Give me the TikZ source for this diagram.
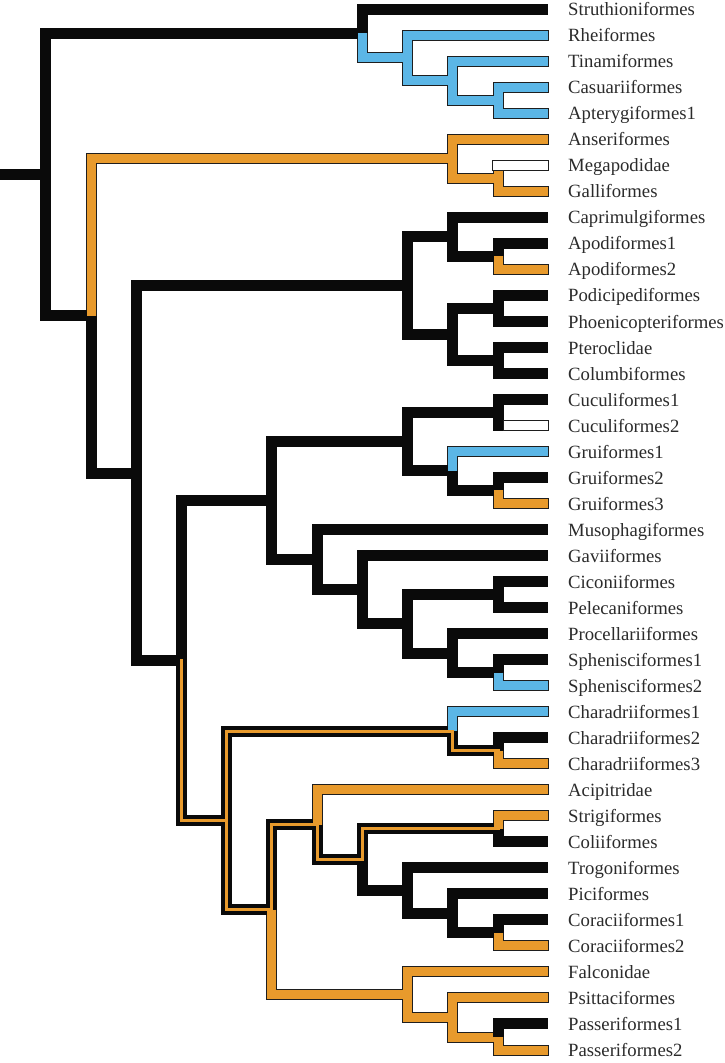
\documentclass[tikz,border=0pt]{standalone}
\usepackage{fontspec}
\setmainfont{Liberation Serif}
\usetikzlibrary{calc}
\definecolor{tblue}{HTML}{5BB6E6}
\definecolor{torange}{HTML}{E89A2C}
\definecolor{tblack}{HTML}{0A0A0A}
\definecolor{tline}{HTML}{1E1E1E}
\definecolor{ttext}{HTML}{2B2B2B}
\begin{document}
\begin{tikzpicture}[x=1pt,y=-1pt,line join=miter,line cap=butt,
  outl/.style={draw=tline,line width=11pt,shorten >=-1pt},
  kedge/.style={draw=tblack,line width=11pt},
  bedge/.style={draw=tblue,line width=9pt},
  oedge/.style={draw=torange,line width=9pt},
  dedge/.style={draw=tblack,line width=11pt},
  stripe/.style={draw=torange,line width=3pt,line cap=rect},
  wbar/.style={draw=tline,fill=white,line width=1pt},
  lab/.style={anchor=base west,inner sep=0pt,text=ttext,font=\fontsize{18.7}{20}\selectfont}]
\fill[white] (0,0) rectangle (724,1063);
\useasboundingbox (0,0) rectangle (724,1063);
% tips and labels
\foreach \i/\nm in {1/Struthioniformes,2/Rheiformes,3/Tinamiformes,4/Casuariiformes,5/Apterygiformes1,
  6/Anseriformes,7/Megapodidae,8/Galliformes,9/Caprimulgiformes,10/Apodiformes1,11/Apodiformes2,
  12/Podicipediformes,13/Phoenicopteriformes,14/Pteroclidae,15/Columbiformes,16/Cuculiformes1,
  17/Cuculiformes2,18/Gruiformes1,19/Gruiformes2,20/Gruiformes3,21/Musophagiformes,22/Gaviiformes,
  23/Ciconiiformes,24/Pelecaniformes,25/Procellariiformes,26/Sphenisciformes1,27/Sphenisciformes2,
  28/Charadriiformes1,29/Charadriiformes2,30/Charadriiformes3,31/Acipitridae,32/Strigiformes,
  33/Coliiformes,34/Trogoniformes,35/Piciformes,36/Coraciiformes1,37/Coraciiformes2,38/Falconidae,
  39/Psittaciformes,40/Passeriformes1,41/Passeriformes2}{
  \coordinate (t\i) at (548,{9+26.025*(\i-1)});
  \node[lab] (l\i) at ($(t\i)+(20,6.7)$) {\nm};
}
% internal nodes
\coordinate (pa4) at (498,100.09);
\coordinate (pa3) at (452.5,80.57);
\coordinate (pa2) at (407.5,57.80);
\coordinate (pa1) at (362,33.40);
\coordinate (ga2) at (498,178.16);
\coordinate (ga1) at (452.5,158.64);
\coordinate (a3) at (498,256.24);
\coordinate (a2) at (452.5,236.72);
\coordinate (a5) at (498,308.29);
\coordinate (a6) at (498,360.34);
\coordinate (a4) at (452.5,334.31);
\coordinate (a1) at (407.5,285.52);
\coordinate (c1) at (498,412.39);
\coordinate (g2) at (498,490.46);
\coordinate (g1) at (452.5,470.94);
\coordinate (b1a) at (407.5,441.67);
\coordinate (ci) at (498,594.56);
\coordinate (sp) at (498,672.64);
\coordinate (pr) at (452.5,653.12);
\coordinate (cp) at (407.5,623.84);
\coordinate (gv) at (362,589.68);
\coordinate (b1b) at (317,559.59);
\coordinate (b1) at (271.5,500.63);
\coordinate (ch2) at (498,750.71);
\coordinate (ch) at (452.5,731.19);
\coordinate (sc) at (498,828.79);
\coordinate (co2) at (498,932.89);
\coordinate (pi) at (452.5,913.37);
\coordinate (tr) at (407.5,890.60);
\coordinate (s3) at (362,859.69);
\coordinate (ac) at (317,824.72);
\coordinate (pb) at (498,1036.99);
\coordinate (ps) at (452.5,1017.47);
\coordinate (fa) at (407.5,994.70);
\coordinate (nl) at (271.5,909.71);
\coordinate (b2) at (226.5,820.45);
\coordinate (b) at (181,660.54);
\coordinate (neo) at (136,473.03);
\coordinate (neog) at (91,315.84);
\coordinate (root) at (45.5,174.62);
\coordinate (stub) at (0,174.62);
% phase 1: outlines of coloured branches
\foreach \p/\c in {pa1/pa2,pa2/t2,pa2/pa3,pa3/t3,pa3/pa4,pa4/t4,pa4/t5,neog/ga1,ga1/t6,ga1/ga2,
  ga2/t7,ga2/t8,a3/t11,g1/t18,g2/t20,sp/t27,ch/t28,ch2/t30,ac/t31,sc/t32,co2/t37,nl/fa,fa/t38,
  fa/ps,ps/t39,ps/pb,pb/t41}
  \draw[outl] (\p) |- (\c);
% phase 2: fills, parents before children
\draw[kedge] (stub) -- (root);
\foreach \p/\c/\s in {root/pa1/kedge,pa1/t1/kedge,pa1/pa2/bedge,pa2/t2/bedge,pa2/pa3/bedge,
  pa3/t3/bedge,pa3/pa4/bedge,pa4/t4/bedge,pa4/t5/bedge,
  root/neog/kedge,neog/ga1/oedge,ga1/t6/oedge,ga1/ga2/oedge,ga2/t7/oedge,ga2/t8/oedge,
  neog/neo/kedge,neo/a1/kedge,a1/a2/kedge,a2/t9/kedge,a2/a3/kedge,a3/t10/kedge,a3/t11/oedge,
  a1/a4/kedge,a4/a5/kedge,a5/t12/kedge,a5/t13/kedge,a4/a6/kedge,a6/t14/kedge,a6/t15/kedge,
  neo/b/kedge,b/b1/kedge,b1/b1a/kedge,b1a/c1/kedge,c1/t16/kedge,c1/t17/kedge,
  b1a/g1/kedge,g1/t18/bedge,g1/g2/kedge,g2/t19/kedge,g2/t20/oedge,
  b1/b1b/kedge,b1b/t21/kedge,b1b/gv/kedge,gv/t22/kedge,gv/cp/kedge,cp/ci/kedge,ci/t23/kedge,
  ci/t24/kedge,cp/pr/kedge,pr/t25/kedge,pr/sp/kedge,sp/t26/kedge,sp/t27/bedge,
  b/b2/dedge,b2/ch/dedge,ch/t28/bedge,ch/ch2/dedge,ch2/t29/kedge,ch2/t30/oedge,
  b2/nl/dedge,nl/ac/dedge,ac/t31/oedge,ac/s3/dedge,s3/sc/dedge,sc/t32/oedge,sc/t33/kedge,
  s3/tr/kedge,tr/t34/kedge,tr/pi/kedge,pi/t35/kedge,pi/co2/kedge,co2/t36/kedge,co2/t37/oedge,
  nl/fa/oedge,fa/t38/oedge,fa/ps/oedge,ps/t39/oedge,ps/pb/oedge,pb/t40/kedge,pb/t41/oedge}
  \draw[\s] (\p) |- (\c);
% phase 3: orange stripes in ambiguous branches
\foreach \p/\c in {b/b2,b2/ch,ch/ch2,b2/nl,nl/ac,ac/s3,s3/sc}
  \draw[stripe] (\p) |- (\c);
% white (absent) branches
\draw[wbar] ($(t7)+(-55.5,-5)$) rectangle ($(t7)+(0.5,5)$);
\draw[wbar] ($(t17)+(-44.5,-5)$) rectangle ($(t17)+(0.5,5)$);
\end{tikzpicture}
\end{document}
